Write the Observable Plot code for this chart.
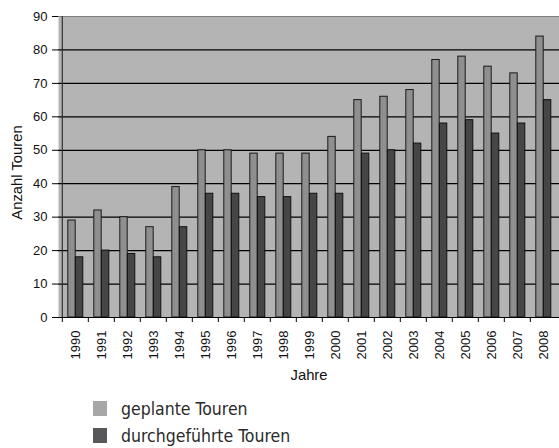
<!DOCTYPE html>
<html><head><meta charset="utf-8">
<script src="https://cdn.jsdelivr.net/npm/d3@7"></script>
<script src="https://cdn.jsdelivr.net/npm/@observablehq/plot@0.6"></script>
<style>
html,body{margin:0;padding:0;background:#fff;overflow:hidden;width:559px;height:448px;}
#legend{margin-left:93px;margin-top:10px;font-family:"DejaVu Sans Condensed","DejaVu Sans",sans-serif;font-size:17.5px;color:#2a2a2a;}
.row{display:flex;align-items:center;height:27px;white-space:nowrap;}
.sw{width:14px;height:15px;margin-right:14px;flex:none;}
</style></head>
<body><div id="chart"></div><div id="legend"></div>
<script>
const years = [1990,1991,1992,1993,1994,1995,1996,1997,1998,1999,2000,2001,2002,2003,2004,2005,2006,2007,2008];
const geplant = [29,32,30,27,39,50,50,49,49,49,54,65,66,68,77,78,75,73,84];
const durchgefuehrt = [18,20,19,18,27,37,37,36,36,37,37,49,50,52,58,59,55,58,65];
const seriesNames = ["geplante Touren","durchgeführte Touren"];
const yTicks = [0,10,20,30,40,50,60,70,80,90];
const gridValues = [10,20,30,40,50,60,70,80];
const topValue = [90];
const axisTitleY = "Anzahl Touren";
const axisTitleX = "Jahre";

const barColors = ["#8f8f8f","#464646"];
const legendColors = ["#a7a7a8","#58585a"];

const data = years.map((y,i)=>({year:String(y), geplant:geplant[i], durch:durchgefuehrt[i]}));
const W = 559, H = 385, ML = 58, MR = 0;
const bw = (W - ML - MR) / years.length;

const chart = Plot.plot({
  width: W, height: H,
  marginLeft: ML, marginRight: MR, marginTop: 16, marginBottom: 68,
  style: {fontFamily: "'Liberation Sans', Arial, sans-serif", fontSize: "13px", background: "#fff", color: "#000", overflow: "visible"},
  x: {type: "band", domain: years.map(String), padding: 0, axis: null},
  y: {domain: [0, 90], axis: null},
  marks: [
    Plot.frame({fill: "#b4b4b4", stroke: null}),
    Plot.ruleY(gridValues, {stroke: "#000", strokeWidth: 1.2}),
    Plot.ruleY(topValue, {stroke: "#7f7f7f", strokeWidth: 1.2}),
    Plot.barY(data, {x: "year", y: "geplant", fill: barColors[0], stroke: "#1a1a1a", strokeWidth: 1, insetLeft: 5.8, insetRight: 12.8}),
    Plot.barY(data, {x: "year", y: "durch", fill: barColors[1], stroke: "#111", strokeWidth: 1, insetLeft: 13.4, insetRight: 5.2}),
    Plot.ruleY([0], {stroke: "#000", strokeWidth: 1.2}),
    Plot.ruleX([years[0]].map(String), {dx: -bw/2, stroke: "#333", strokeWidth: 1.2}),
    Plot.axisY({ticks: yTicks, tickSize: 6, tickPadding: 5, label: null, stroke: "#000", fill: "#111"}),
    Plot.axisX({ticks: years.map(String), tickSize: 5, tickFormat: () => "", dx: -bw/2, label: null, stroke: "#000"}),
    Plot.text(years.map(String), {x: d => d, text: d => d, frameAnchor: "bottom", rotate: -90, textAnchor: "end", lineAnchor: "middle", dy: 13, fill: "#111"}),
    Plot.text([axisTitleY], {frameAnchor: "left", rotate: -90, dx: -41.5, dy: 5.5, textAnchor: "middle", lineAnchor: "middle", fill: "#111", fontSize: 14.8}),
    Plot.text([axisTitleX], {frameAnchor: "bottom", dy: 58, textAnchor: "middle", lineAnchor: "middle", fill: "#111", fontSize: 14.8})
  ]
});
document.getElementById("chart").appendChild(chart);

const legend = d3.select("#legend");
seriesNames.forEach((name, i) => {
  const row = legend.append("div").attr("class", "row");
  row.append("div").attr("class", "sw").style("background", legendColors[i]);
  row.append("span").text(name);
});
</script>
</body></html>
